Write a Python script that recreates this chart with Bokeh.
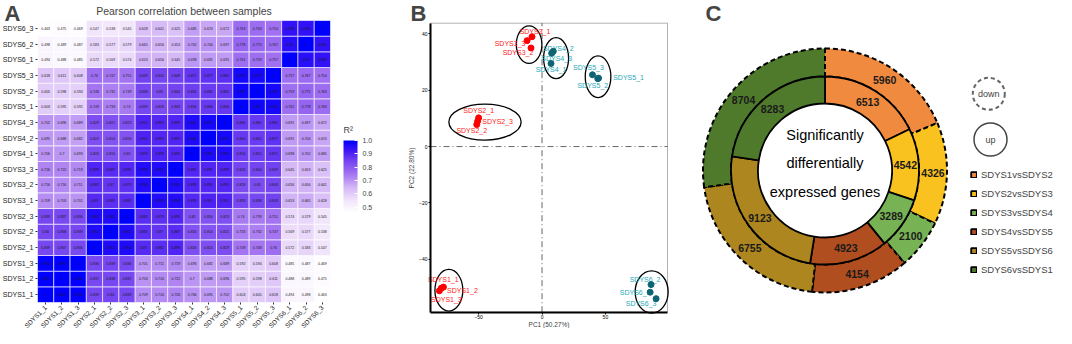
import math
import numpy as np
from bokeh.plotting import figure
from bokeh.layouts import row
from bokeh.models import (ColumnDataSource, LinearColorMapper, ColorBar, FixedTicker,
                          PrintfTickFormatter, Label, Legend, LegendItem, Range1d,
                          BoxAnnotation)
from bokeh.core.properties import value
from bokeh.embed import file_html
from bokeh.resources import INLINE

FONT = "Liberation Sans"

# ---------------- Panel A data: Pearson correlation ----------------
samples = ["SDYS1_1", "SDYS1_2", "SDYS1_3", "SDYS2_1", "SDYS2_2", "SDYS2_3",
           "SDYS3_1", "SDYS3_2", "SDYS3_3", "SDYS4_1", "SDYS4_2", "SDYS4_3",
           "SDYS5_1", "SDYS5_2", "SDYS5_3", "SDYS6_1", "SDYS6_2", "SDYS6_3"]
r_SDYS1_1 = [1, 0.997, 0.994, 0.839, 0.84, 0.839, 0.709, 0.716, 0.726, 0.706, 0.695, 0.702, 0.603, 0.605, 0.618, 0.494, 0.498, 0.463]
r_SDYS1_2 = [0.997, 1, 0.996, 0.837, 0.838, 0.837, 0.703, 0.716, 0.722, 0.7, 0.688, 0.696, 0.595, 0.598, 0.611, 0.488, 0.489, 0.475]
r_SDYS1_3 = [0.994, 0.996, 1, 0.836, 0.839, 0.836, 0.701, 0.711, 0.719, 0.693, 0.682, 0.689, 0.592, 0.594, 0.608, 0.485, 0.487, 0.469]
r_SDYS2_1 = [0.839, 0.837, 0.836, 1, 0.962, 0.963, 0.89, 0.882, 0.899, 0.826, 0.824, 0.829, 0.749, 0.748, 0.76, 0.572, 0.583, 0.547]
r_SDYS2_2 = [0.84, 0.838, 0.839, 0.962, 1, 0.962, 0.881, 0.87, 0.887, 0.816, 0.814, 0.821, 0.733, 0.732, 0.747, 0.569, 0.577, 0.538]
r_SDYS2_3 = [0.839, 0.837, 0.836, 0.963, 0.962, 1, 0.885, 0.879, 0.895, 0.82, 0.816, 0.823, 0.74, 0.739, 0.751, 0.574, 0.579, 0.545]
r_SDYS3_1 = [0.709, 0.703, 0.701, 0.89, 0.881, 0.885, 1, 0.958, 0.958, 0.893, 0.901, 0.901, 0.839, 0.838, 0.849, 0.653, 0.665, 0.628]
r_SDYS3_2 = [0.716, 0.716, 0.711, 0.882, 0.87, 0.879, 0.958, 1, 0.961, 0.899, 0.895, 0.895, 0.828, 0.83, 0.843, 0.656, 0.656, 0.641]
r_SDYS3_3 = [0.726, 0.722, 0.719, 0.899, 0.887, 0.895, 0.958, 0.961, 1, 0.895, 0.897, 0.899, 0.843, 0.844, 0.849, 0.645, 0.653, 0.625]
r_SDYS4_1 = [0.706, 0.7, 0.693, 0.826, 0.816, 0.82, 0.893, 0.899, 0.895, 1, 0.964, 0.962, 0.856, 0.855, 0.871, 0.698, 0.702, 0.685]
r_SDYS4_2 = [0.695, 0.688, 0.682, 0.824, 0.814, 0.816, 0.901, 0.895, 0.897, 0.964, 1, 0.973, 0.864, 0.862, 0.877, 0.691, 0.704, 0.674]
r_SDYS4_3 = [0.702, 0.696, 0.689, 0.829, 0.821, 0.823, 0.901, 0.895, 0.899, 0.962, 0.973, 1, 0.866, 0.865, 0.881, 0.691, 0.697, 0.672]
r_SDYS5_1 = [0.603, 0.595, 0.592, 0.749, 0.733, 0.74, 0.839, 0.828, 0.843, 0.856, 0.864, 0.866, 1, 0.98, 0.973, 0.761, 0.778, 0.763]
r_SDYS5_2 = [0.605, 0.598, 0.594, 0.748, 0.732, 0.739, 0.838, 0.83, 0.844, 0.855, 0.862, 0.865, 0.98, 1, 0.973, 0.759, 0.775, 0.763]
r_SDYS5_3 = [0.618, 0.611, 0.608, 0.76, 0.747, 0.751, 0.849, 0.843, 0.849, 0.871, 0.877, 0.881, 0.973, 0.973, 1, 0.757, 0.767, 0.754]
r_SDYS6_1 = [0.494, 0.488, 0.485, 0.572, 0.569, 0.574, 0.653, 0.656, 0.645, 0.698, 0.691, 0.691, 0.761, 0.759, 0.757, 1, 0.95, 0.938]
r_SDYS6_2 = [0.498, 0.489, 0.487, 0.583, 0.577, 0.579, 0.665, 0.656, 0.653, 0.702, 0.704, 0.697, 0.778, 0.775, 0.767, 0.95, 1, 0.942]
r_SDYS6_3 = [0.463, 0.475, 0.469, 0.547, 0.538, 0.545, 0.628, 0.641, 0.625, 0.685, 0.674, 0.672, 0.763, 0.763, 0.754, 0.938, 0.942, 1]
corr_rows = [r_SDYS1_1, r_SDYS1_2, r_SDYS1_3, r_SDYS2_1, r_SDYS2_2, r_SDYS2_3,
             r_SDYS3_1, r_SDYS3_2, r_SDYS3_3, r_SDYS4_1, r_SDYS4_2, r_SDYS4_3,
             r_SDYS5_1, r_SDYS5_2, r_SDYS5_3, r_SDYS6_1, r_SDYS6_2, r_SDYS6_3]
heat_title = "Pearson correlation between samples"
cbar_title = "R²"
cbar_ticks = [0.5, 0.6, 0.7, 0.8, 0.9, 1.0]

# ---------------- Panel B data: PCA ----------------
pca_names = samples
pc1 = [-79.5, -77.8, -81.0, -50.0, -51.5, -50.8, -7.9, -8.7, -11.8,
       7.1, 8.9, 7.6, 44.6, 44.0, 39.8, 85.3, 86.0, 90.0]
pc2 = [-50.3, -49.9, -51.2, 10.2, 7.8, 9.0, 39.0, 35.0, 37.6,
       29.5, 33.8, 33.1, 24.3, 24.1, 25.5, -51.7, -49.0, -54.0]
pc1_title = "PC1 (50.27%)"
pc2_title = "PC2 (22.80%)"
pca_x_ticks = [-50, 0, 50]
pca_y_ticks = [-40, -20, 0, 20, 40]
pca_xlim = (-88.0, 99.0)
pca_ylim = (-58.8, 43.8)
# group ellipses
ell_x = [-73.5, -45.0, -10.2, 11.1, 44.2, 86.5]
ell_y = [-51.0, 8.7, 36.2, 31.4, 24.8, -51.6]
ell_w = [22.0, 57.0, 20.2, 19.7, 20.2, 26.0]
ell_h = [14.8, 12.8, 13.3, 14.6, 14.8, 15.0]

# ---------------- Panel C data: DEG donut ----------------
comparisons = ["SDYS1vsSDYS2", "SDYS2vsSDYS3", "SDYS3vsSDYS4",
               "SDYS4vsSDYS5", "SDYS5vsSDYS6", "SDYS6vsSDYS1"]
up_counts = [6513, 4542, 3289, 4923, 9123, 8283]
down_counts = [5960, 4326, 2100, 4154, 6755, 8704]
center_text = "Significantly\ndifferentially\nexpressed genes"


def style_axis(ax, size):
    ax.major_label_text_font = FONT
    ax.major_label_text_font_size = size
    ax.major_label_text_color = "black"
    ax.minor_tick_line_color = None
    ax.major_tick_in = 0


# ================= Panel A =================
def interp_palette(anchors, n=256):
    vals = [a[0] for a in anchors]
    rgb = [tuple(int(c[i:i + 2], 16) for i in (1, 3, 5)) for _, c in anchors]
    out = []
    for k in range(n):
        v = vals[0] + (vals[-1] - vals[0]) * k / (n - 1)
        comp = [np.interp(v, vals, [c[j] for c in rgb]) for j in range(3)]
        out.append("#%02x%02x%02x" % tuple(int(round(x)) for x in comp))
    return out

palette = interp_palette([(0.46, "#FFFFFF"), (0.55, "#F1E4FB"), (0.65, "#D3B6F6"),
                          (0.75, "#A373F1"), (0.85, "#7242F1"), (0.92, "#4318F5"),
                          (1.0, "#0000FF")])
mapper = LinearColorMapper(palette=palette, low=0.46, high=1.0)

n = len(samples)
pos = [i + 0.5 for i in range(n)]
hx, hy, hv, ht = [], [], [], []
for i in range(n):
    for j in range(n):
        v = corr_rows[i][j]
        hx.append(pos[j]); hy.append(pos[i]); hv.append(v); ht.append(f"{v:g}")
hsrc = ColumnDataSource(dict(x=hx, y=hy, v=hv, t=ht))

p1 = figure(x_range=Range1d(-2.273, 22.30), y_range=Range1d(-1.66, 19.277),
            width=400, height=328, output_backend="svg", toolbar_location=None,
            min_border=0)
p1.rect(x="x", y="y", width=1, height=1, source=hsrc,
        fill_color={"field": "v", "transform": mapper}, line_color="white", line_width=0.6)
p1.text(x="x", y="y", text="t", source=hsrc, text_font=value(FONT), text_font_size="3.5px",
        text_align="center", text_baseline="middle", text_color="#1a1a1a")
for ax in (p1.xaxis, p1.yaxis):
    ax.fixed_location = 0
    ax.ticker = FixedTicker(ticks=pos)
    ax.major_label_overrides = {p: s for p, s in zip(pos, samples)}
    ax.axis_line_color = None
    ax.major_tick_line_color = "#333333"
    ax.major_tick_out = 2
    ax.major_label_standoff = 2
    style_axis(ax, "7px")
    ax.major_label_text_color = "#1a1a1a"
p1.xaxis.major_label_text_font_size = "6.5px"
p1.xaxis.major_label_orientation = math.pi / 4
p1.grid.visible = False
p1.outline_line_color = None

cb = ColorBar(color_mapper=mapper, width=14, height=72, title=None,
              ticker=FixedTicker(ticks=cbar_ticks),
              formatter=PrintfTickFormatter(format="%.1f"),
              major_label_text_font=FONT, major_label_text_font_size="7px",
              major_tick_line_color="white", major_tick_in=3, major_tick_out=0,
              bar_line_color=None, padding=2, location=(341, 114),
              background_fill_alpha=0, border_line_color=None)
p1.add_layout(cb)
p1.add_layout(Label(x=18.80, y=10.98, text=cbar_title, text_font=FONT, text_font_size="9px",
                    text_align="left", text_baseline="middle"))
p1.add_layout(Label(x=-2.03, y=19.277, text="A", text_font=FONT, text_font_size="22px",
                    text_font_style="bold", text_align="left", text_baseline="top"))
p1.add_layout(Label(x=9, y=18.638, text=heat_title, text_font=FONT, text_font_size="10.5px",
                    text_align="center", text_baseline="middle"))

# ================= Panel B =================
grp_color = ["#FF0000"] * 9 + ["#0E6474"] * 9
lbl_color = ["#FF1A1A"] * 9 + ["#1EA8B8"] * 9
lbl_dx = [2, 19, 7, 0, -5, 20, 3, -13, -17, 0, 5, 5, 30, -5, -4, -15, -6, -15]
lbl_dy = [-9, 3, 8.5, -7, 6, 0, -5, 5, 3, 6, -3, 5, -1, 7, -7, 0, -5, 5]
psrc = ColumnDataSource(dict(x=pc1, y=pc2, name=pca_names, c=grp_color, lc=lbl_color,
                             dx=lbl_dx, dy=lbl_dy))

p2 = figure(x_range=Range1d(-111.66, 117.14), y_range=Range1d(-64.59, 51.86),
            width=290, height=328, output_backend="svg", toolbar_location=None,
            min_border=0)
p2.grid.visible = False
p2.outline_line_color = None
p2.add_layout(BoxAnnotation(left=pca_xlim[0], right=pca_xlim[1], bottom=pca_ylim[0],
                            top=pca_ylim[1], fill_alpha=0, line_color="black", line_width=1))
p2.segment(x0=[0, pca_xlim[0]], y0=[pca_ylim[0], 0], x1=[0, pca_xlim[1]], y1=[pca_ylim[1], 0],
           line_color="#666666", line_dash="6 3 1 3", line_width=1)
p2.ellipse(x=ell_x, y=ell_y, width=ell_w, height=ell_h, fill_color=None,
           line_color="black", line_width=1.3)
p2.text(x="x", y="y", text="name", source=psrc, x_offset="dx", y_offset="dy",
        text_color="lc", text_font=value(FONT), text_font_size="7px",
        text_align="center", text_baseline="middle")
p2.scatter(x="x", y="y", source=psrc, size=6, fill_color="c", line_color="c")
p2.xaxis.ticker = FixedTicker(ticks=pca_x_ticks)
p2.yaxis.ticker = FixedTicker(ticks=pca_y_ticks)
p2.xaxis.axis_label = pc1_title
p2.yaxis.axis_label = pc2_title
p2.xaxis.fixed_location = pca_ylim[0]
p2.yaxis.fixed_location = pca_xlim[0]
p2.xaxis.bounds = pca_xlim
p2.yaxis.bounds = pca_ylim
for ax in (p2.xaxis, p2.yaxis):
    ax.axis_line_width = 2
    ax.axis_line_color = "black"
    ax.major_tick_out = 2
    ax.major_label_standoff = 1
    style_axis(ax, "5px")
    ax.axis_label_text_font = FONT
    ax.axis_label_text_font_size = "6.5px"
    ax.axis_label_text_font_style = "normal"
    ax.axis_label_standoff = 1
p2.xaxis.axis_label_standoff = -2
p2.add_layout(Label(x=-103.8, y=51.86, text="B", text_font=FONT, text_font_size="22px",
                    text_font_style="bold", text_align="left", text_baseline="top"))

# ================= Panel C =================
seg_colors = ["#F08A3E", "#F9C21F", "#77B255", "#B04E1F", "#AD8620", "#4F7A2C"]
r_hole, r_mid, r_out = 67, 94, 122


def ring(counts):
    tot = float(sum(counts))
    cum = np.concatenate([[0], np.cumsum(counts)]) / tot
    start = np.pi / 2 - cum[:-1] * 2 * np.pi
    end = np.pi / 2 - cum[1:] * 2 * np.pi
    mid = (cum[:-1] + cum[1:]) / 2 * 2 * np.pi
    return start, end, mid


p3 = figure(width=366, height=328, x_range=Range1d(-134.5, 231.5), y_range=Range1d(-158, 170),
            output_backend="svg", toolbar_location=None, x_axis_type=None, y_axis_type=None,
            min_border=0)
p3.grid.visible = False
p3.outline_line_color = None

o_s, o_e, o_m = ring(down_counts)
i_s, i_e, i_m = ring(up_counts)
osrc = ColumnDataSource(dict(s=o_s, e=o_e, c=seg_colors,
                             lx=(r_mid + r_out) / 2 * np.sin(o_m), ly=(r_mid + r_out) / 2 * np.cos(o_m),
                             t=[str(v) for v in down_counts]))
isrc = ColumnDataSource(dict(s=i_s, e=i_e, c=seg_colors,
                             lx=(r_hole + r_mid) / 2 * np.sin(i_m), ly=(r_hole + r_mid) / 2 * np.cos(i_m),
                             t=[str(v) for v in up_counts]))
p3.annular_wedge(x=0, y=0, inner_radius=r_mid, outer_radius=r_out, start_angle="s", end_angle="e",
                 direction="clock", source=osrc, fill_color="c", line_color="black",
                 line_width=2, line_dash="5 3")
inner_r = p3.annular_wedge(x=0, y=0, inner_radius=r_hole, outer_radius=r_mid, start_angle="s",
                           end_angle="e", direction="clock", source=isrc, fill_color="c",
                           line_color="black", line_width=1.8)
for src in (osrc, isrc):
    p3.text(x="lx", y="ly", text="t", source=src, text_font=value(FONT), text_font_size="10.5px",
            text_font_style="bold", text_align="center", text_baseline="middle",
            text_color="#1a1a1a")
p3.text(x=[0], y=[7], text=[center_text], text_font=value(FONT), text_font_size="14.5px",
        text_align="center", text_baseline="middle", text_line_height=1.8, text_color="black")

# up / down key
p3.circle(x=[163.8], y=[76.7], radius=16, fill_color=None, line_color="#666666",
          line_dash="4 3", line_width=2)
p3.circle(x=[165.5], y=[31], radius=16.5, fill_color=None, line_color="#444444", line_width=1.5)
p3.text(x=[163.8, 165.5], y=[76.7, 31], text=["down", "up"], text_font=value(FONT),
        text_font_size="9px", text_align="center", text_baseline="middle", text_color="#444444")

legend = Legend(items=[LegendItem(label=c, renderers=[inner_r], index=i)
                       for i, c in enumerate(comparisons)],
                location=(280, 49), glyph_width=7, glyph_height=7, label_height=19,
                spacing=0, padding=0, margin=0, border_line_color=None,
                background_fill_alpha=0, label_standoff=4,
                label_text_font=FONT, label_text_font_size="9.5px")
p3.add_layout(legend)
p3.add_layout(Label(x=-119.5, y=170, text="C", text_font=FONT, text_font_size="22px",
                    text_font_style="bold", text_align="left", text_baseline="top"))

layout = row(p1, p2, p3)
open("out.html", "w").write(file_html(layout, INLINE))
